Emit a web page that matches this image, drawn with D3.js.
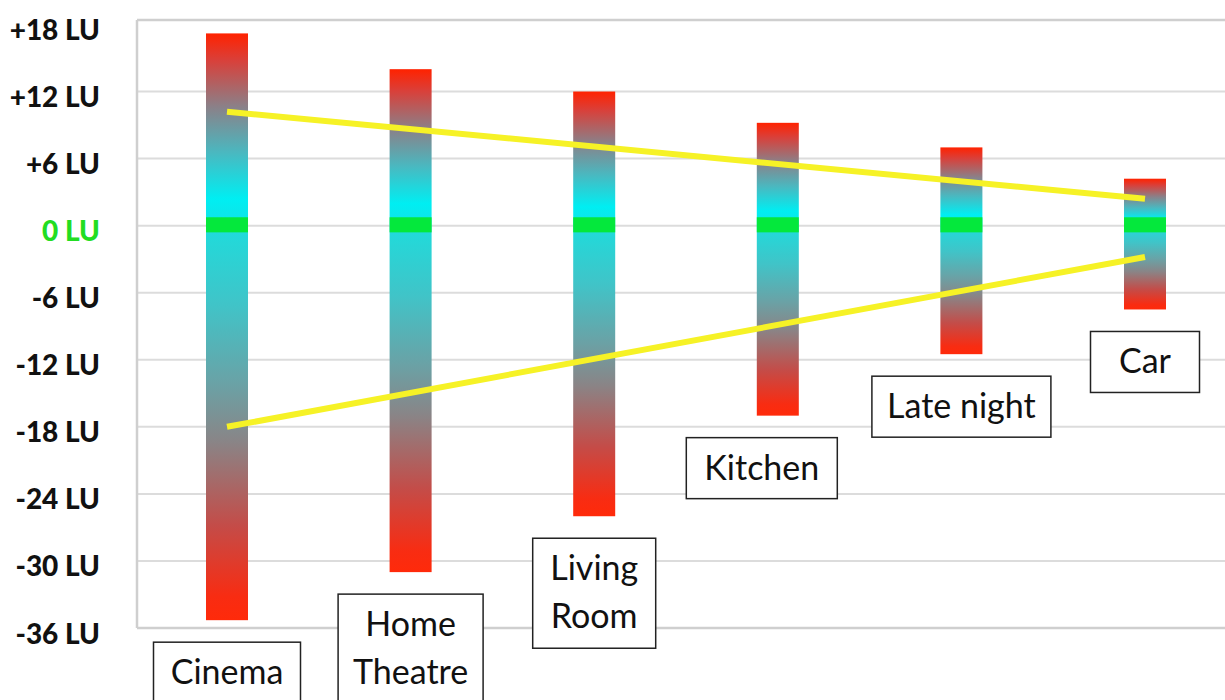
<!DOCTYPE html>
<html>
<head>
<meta charset="utf-8">
<script src="https://cdn.jsdelivr.net/npm/d3@7/dist/d3.min.js"></script>
<style>
  html, body { margin: 0; padding: 0; background: #ffffff; }
  svg { display: block; }
</style>
</head>
<body>
<svg id="chart" width="1225" height="700"></svg>
<script>
// Listening environments and their loudness range (LU relative to target)
const categories = ["Cinema", "Home Theatre", "Living Room", "Kitchen", "Late night", "Car"];
const rangeHigh = [17.2, 14, 12, 9.2, 7, 4.2];
const rangeLow = [-35.3, -31, -26, -17, -11.5, -7.5];

// Yellow guide lines (start at Cinema, end at Car)
const upperGuide = [{ cat: "Cinema", v: 10.2 }, { cat: "Car", v: 2.4 }];
const lowerGuide = [{ cat: "Cinema", v: -18 }, { cat: "Car", v: -2.8 }];

// Axis ticks
const tickValues = [18, 12, 6, 0, -6, -12, -18, -24, -30, -36];
const tickLabels = ["+18 LU", "+12 LU", "+6 LU", "0 LU", "-6 LU", "-12 LU", "-18 LU", "-24 LU", "-30 LU", "-36 LU"];

// Label box layout: horizontal nudge and box width for each category
const boxNudge = [0, 0, 0, -16, 0, 0];
const boxWidth = [147, 145, 123, 151, 179, 109];

const svg = d3.select("#chart");

const plotLeft = 137, plotRight = 1225, plotTop = 20, plotBottom = 628;

const y = d3.scaleLinear().domain([-36, 18.4]).range([plotBottom, plotTop]);
const x = d3.scalePoint().domain(categories).range([227, 1145]);
const barW = 42;

// Gradients: red at the extremes, grey in the middle, cyan near 0 LU
const defs = svg.append("defs");
const gUp = defs.append("linearGradient").attr("id", "gradUp")
  .attr("x1", 0).attr("y1", 0).attr("x2", 0).attr("y2", 1);
[[0, "#ff2200"], [0.14, "#d9403a"], [0.38, "#8b8088"], [0.62, "#4ab8c0"], [0.86, "#00eef2"], [1, "#12e2e6"]]
  .forEach(([o, c]) => gUp.append("stop").attr("offset", o).attr("stop-color", c));
const gDown = defs.append("linearGradient").attr("id", "gradDown")
  .attr("x1", 0).attr("y1", 0).attr("x2", 0).attr("y2", 1);
[[0, "#1edcdc"], [0.2, "#40c4c8"], [0.4, "#6aa2a6"], [0.55, "#8a8486"], [0.76, "#c44c48"], [0.94, "#f82c12"], [1, "#ff2a0a"]]
  .forEach(([o, c]) => gDown.append("stop").attr("offset", o).attr("stop-color", c));

// Gridlines
svg.append("g").selectAll("line")
  .data([12, 6, 0, -6, -12, -18, -24, -30])
  .join("line")
  .attr("x1", plotLeft).attr("x2", plotRight)
  .attr("y1", d => y(d)).attr("y2", d => y(d))
  .attr("stroke", "#dcdcdc").attr("stroke-width", 2);

// Plot frame (top, bottom, left)
svg.append("line").attr("x1", plotLeft).attr("x2", plotRight)
  .attr("y1", plotTop).attr("y2", plotTop).attr("stroke", "#cfcfcf").attr("stroke-width", 2.5);
svg.append("line").attr("x1", plotLeft).attr("x2", plotRight)
  .attr("y1", plotBottom).attr("y2", plotBottom).attr("stroke", "#cfcfcf").attr("stroke-width", 2.5);
svg.append("line").attr("x1", plotLeft).attr("x2", plotLeft)
  .attr("y1", plotTop).attr("y2", plotBottom).attr("stroke", "#cfcfcf").attr("stroke-width", 2.5);

// Range bars
const bars = svg.append("g").selectAll("g")
  .data(categories.map((c, i) => ({ cat: c, hi: rangeHigh[i], lo: rangeLow[i] })))
  .join("g");

bars.append("rect")
  .attr("x", d => x(d.cat) - barW / 2).attr("width", barW)
  .attr("y", d => y(d.hi)).attr("height", d => y(0) - y(d.hi))
  .attr("fill", "url(#gradUp)");
bars.append("rect")
  .attr("x", d => x(d.cat) - barW / 2).attr("width", barW)
  .attr("y", y(0)).attr("height", d => y(d.lo) - y(0))
  .attr("fill", "url(#gradDown)");
// Target band at 0 LU
bars.append("rect")
  .attr("x", d => x(d.cat) - barW / 2).attr("width", barW)
  .attr("y", y(0.75)).attr("height", y(-0.6) - y(0.75))
  .attr("fill", "#04e83c");

// Guide lines
const line = d3.line().x(d => x(d.cat)).y(d => y(d.v));
[upperGuide, lowerGuide].forEach(g => {
  svg.append("path").datum(g).attr("d", line)
    .attr("fill", "none").attr("stroke", "#f6f226").attr("stroke-width", 6);
});

// Y tick labels
svg.append("g").selectAll("text")
  .data(tickValues.map((v, i) => ({ v, label: tickLabels[i] })))
  .join("text")
  .attr("x", 100).attr("y", d => y(d.v) + 4.5)
  .attr("text-anchor", "end").attr("dominant-baseline", "central")
  .attr("font-family", "Lato, 'Open Sans', sans-serif")
  .attr("font-weight", 900).attr("font-size", 28)
  .attr("fill", d => d.v === 0 ? "#22dd22" : "#111111")
  .text(d => d.label);

// Category label boxes, placed just below each bar
const lineGap = 48;
const boxes = svg.append("g").selectAll("g")
  .data(categories.map((c, i) => ({ cat: c, lo: rangeLow[i], i, lines: c === "Home Theatre" ? ["Home", "Theatre"] : c === "Living Room" ? ["Living", "Room"] : [c] })))
  .join("g")
  .attr("transform", d => `translate(${x(d.cat) + boxNudge[d.i]},${y(d.lo) + 22})`);

boxes.append("rect")
  .attr("x", d => -boxWidth[d.i] / 2).attr("y", 0)
  .attr("width", d => boxWidth[d.i])
  .attr("height", d => 61 + (d.lines.length - 1) * 49)
  .attr("fill", "#ffffff").attr("stroke", "#222222").attr("stroke-width", 1.5);

boxes.each(function (d) {
  d3.select(this).selectAll("text").data(d.lines).join("text")
    .attr("x", 0).attr("y", (t, j) => 42 + j * lineGap)
    .attr("text-anchor", "middle")
    .attr("font-family", "Lato, 'Open Sans', sans-serif")
    .attr("font-size", 34).attr("fill", "#111111")
    .text(t => t);
});
</script>
</body>
</html>
